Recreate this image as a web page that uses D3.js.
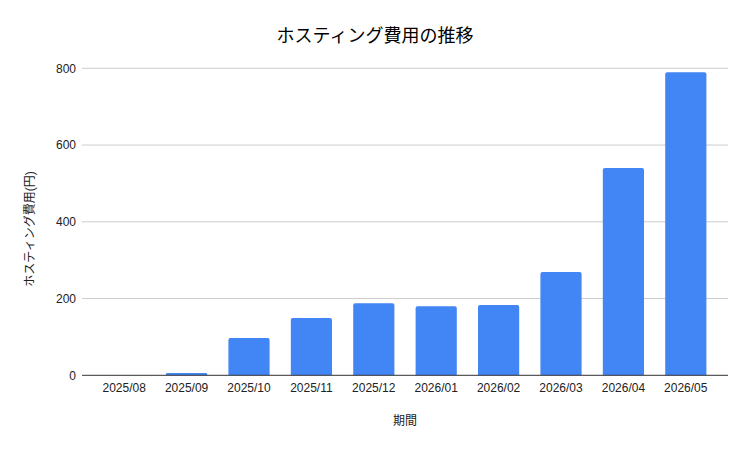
<!DOCTYPE html>
<html>
<head>
<meta charset="utf-8">
<script src="https://cdn.jsdelivr.net/npm/d3@7"></script>
<style>
  body { margin: 0; background: #fff; }
  text { font-family: "Liberation Sans", Arial, "Noto Sans CJK JP", sans-serif; }
</style>
</head>
<body>
<div id="chart"></div>
<script>
// data
const months = ["2025/08", "2025/09", "2025/10", "2025/11", "2025/12",
                "2026/01", "2026/02", "2026/03", "2026/04", "2026/05"];
const costs = [0, 6, 97, 149, 188, 180, 183, 269, 540, 790];
const yTicks = [0, 200, 400, 600, 800];

const width = 750;
const height = 450;

const svg = d3.select("#chart")
  .append("svg")
  .attr("width", width)
  .attr("height", height);

const x = d3.scaleBand()
  .domain(months)
  .range([93, 717])
  .paddingInner(0.34)
  .paddingOuter(0.17);

const y = d3.scaleLinear()
  .domain([0, 800])
  .range([375.3, 68.3]);

// gridlines + y labels
svg.selectAll("line.grid")
  .data(yTicks.filter(d => d > 0))
  .enter()
  .append("line")
  .attr("class", "grid")
  .attr("x1", 82)
  .attr("x2", 728)
  .attr("y1", d => y(d))
  .attr("y2", d => y(d))
  .attr("stroke", "#cccccc")
  .attr("stroke-width", 1);

svg.selectAll("text.ytick")
  .data(yTicks)
  .enter()
  .append("text")
  .attr("class", "ytick")
  .attr("x", 76)
  .attr("y", d => y(d))
  .attr("dy", "0.35em")
  .attr("text-anchor", "end")
  .attr("font-size", 12)
  .attr("fill", "#222")
  .text(d => d);

const bars = months.map((m, i) => ({ month: m, cost: costs[i] }));

svg.selectAll("path.bar")
  .data(bars.filter(d => d.cost > 0))
  .enter()
  .append("path")
  .attr("class", "bar")
  .attr("fill", "#4285f4")
  .attr("d", d => {
    const x0 = x(d.month), w = x.bandwidth();
    const y0 = y(d.cost), y1 = y(0);
    const r = Math.min(2, (y1 - y0) / 2);
    return `M${x0},${y1} V${y0 + r} Q${x0},${y0} ${x0 + r},${y0} H${x0 + w - r} Q${x0 + w},${y0} ${x0 + w},${y0 + r} V${y1} Z`;
  });

// baseline
svg.append("line")
  .attr("x1", 82)
  .attr("x2", 728)
  .attr("y1", y(0))
  .attr("y2", y(0))
  .attr("stroke", "#333")
  .attr("stroke-width", 1);

svg.selectAll("text.xtick")
  .data(months)
  .enter()
  .append("text")
  .attr("class", "xtick")
  .attr("x", d => x(d) + x.bandwidth() / 2)
  .attr("y", 392)
  .attr("text-anchor", "middle")
  .attr("font-size", 12)
  .attr("fill", "#222")
  .text(d => d);

svg.append("text")
  .attr("x", 375)
  .attr("y", 42)
  .attr("text-anchor", "middle")
  .attr("font-size", 18)
  .attr("fill", "#000")
  .text("ホスティング費用の推移");

svg.append("text")
  .attr("x", 405)
  .attr("y", 425)
  .attr("text-anchor", "middle")
  .attr("font-size", 12)
  .attr("fill", "#222")
  .text("期間");

svg.append("text")
  .attr("transform", "translate(34, 229) rotate(-90)")
  .attr("text-anchor", "middle")
  .attr("font-size", 12)
  .attr("fill", "#222")
  .text("ホスティング費用(円)");
</script>
</body>
</html>
